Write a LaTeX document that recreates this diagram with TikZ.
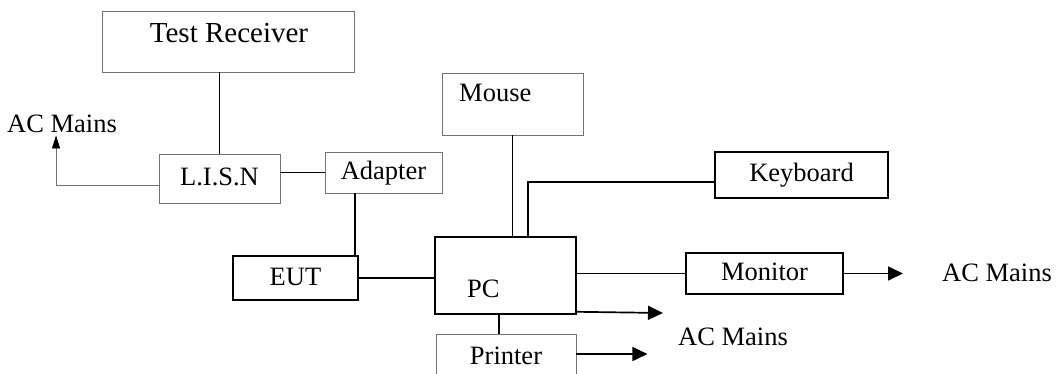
\documentclass[tikz,border=0pt]{standalone}
\usepackage{fontspec}
\setmainfont{Liberation Serif}
\usetikzlibrary{positioning, arrows.meta}

\begin{document}
\begin{tikzpicture}[x=1pt, y=-1pt]
\tikzstyle{unit}  = [rectangle, draw=black, line width=1.6pt, inner sep=0pt, text height=18pt, text depth=4pt, font=\fontsize{26.5}{30}\selectfont]
\tikzstyle{pale}  = [unit, draw=black!55, line width=0.9pt]
\tikzstyle{tag}   = [inner sep=0pt, anchor=base west, font=\fontsize{26.5}{30}\selectfont]
\tikzstyle{wire}  = [line width=1.7pt]
\tikzstyle{feed}  = [wire, -{Triangle[length=15pt, width=14pt]}]
\useasboundingbox (0,0) rectangle (1057,374);
\node[pale, minimum width=252pt, minimum height=61pt] at (228.0, 41.5) (tr){};
\node[tag, anchor=base, font=\fontsize{29}{32}\selectfont] at (229.0, 43.0) (trtag){Test Receiver};
\node[pale, minimum width=121pt, minimum height=49pt] at (219.5, 178.5) (lisn){L.I.S.N};
\node[pale, minimum width=117pt, minimum height=41pt] at (383.5, 172.5) (adapter){Adapter};
\node[tag] at (7.0, 133.0) (acl){AC Mains};
\node[pale, minimum width=141pt, minimum height=62pt] at (512.5, 104.0) (mouse){};
\node[tag] at (459.0, 102.0) (mousetag){Mouse};
\node[unit, minimum width=125pt, minimum height=44pt] at (295.5, 278.0) (eut){EUT};
\node[unit, minimum width=141pt, minimum height=77pt] at (505.5, 275.5) (pc){};
\node[tag] at (467.0, 297.0) (pctag){PC};
\node[unit, minimum width=173pt, minimum height=46pt] at (801.5, 175.0) (keyboard){Keyboard};
\node[unit, minimum width=157pt, minimum height=41pt] at (764.5, 273.5) (monitor){Monitor};
\node[tag] at (942.0, 281.0) (acr){AC Mains};
\node[pale, minimum width=140pt, minimum height=46pt] at (506.0, 357.0) (printer){Printer};
\node[tag] at (678.0, 345.0) (acb){AC Mains};
\coordinate (pcout) at (663.0, 313.0);
\draw[wire] (lisn.north) -- (lisn.north |- tr.south);
\draw[wire] (adapter.west) -- (adapter.west -| lisn.east);
\draw[black!55, line width=0.9pt, -{Triangle[length=13pt, width=8pt, fill=black, color=black]}] ([yshift=-6.5pt]lisn.west) -| ([xshift=-6pt, yshift=-2pt]acl.south);
\draw[wire] ([xshift=-28.5pt]adapter.south) -- ([xshift=-28.5pt]adapter.south |- eut.north);
\draw[wire] (eut.east) -- (eut.east -| pc.west);
\draw[wire] (mouse.south) -- (mouse.south |- pc.north);
\draw[wire] ([xshift=22.5pt]pc.north) |- ([yshift=-7pt]keyboard.west);
\draw[wire] (monitor.west) -- (monitor.west -| pc.east);
\draw[feed] (monitor.east) -- ([xshift=-39pt]acr.west |- monitor.east);
\draw[feed] ([yshift=3pt]pc.south east) -- (pcout);
\draw[wire] ([xshift=-6.5pt]pc.south) -- ([xshift=-6.5pt]pc.south |- printer.north);
\draw[feed] ([yshift=3pt]printer.east) -- ++(71,0);
\end{tikzpicture}
\end{document}
